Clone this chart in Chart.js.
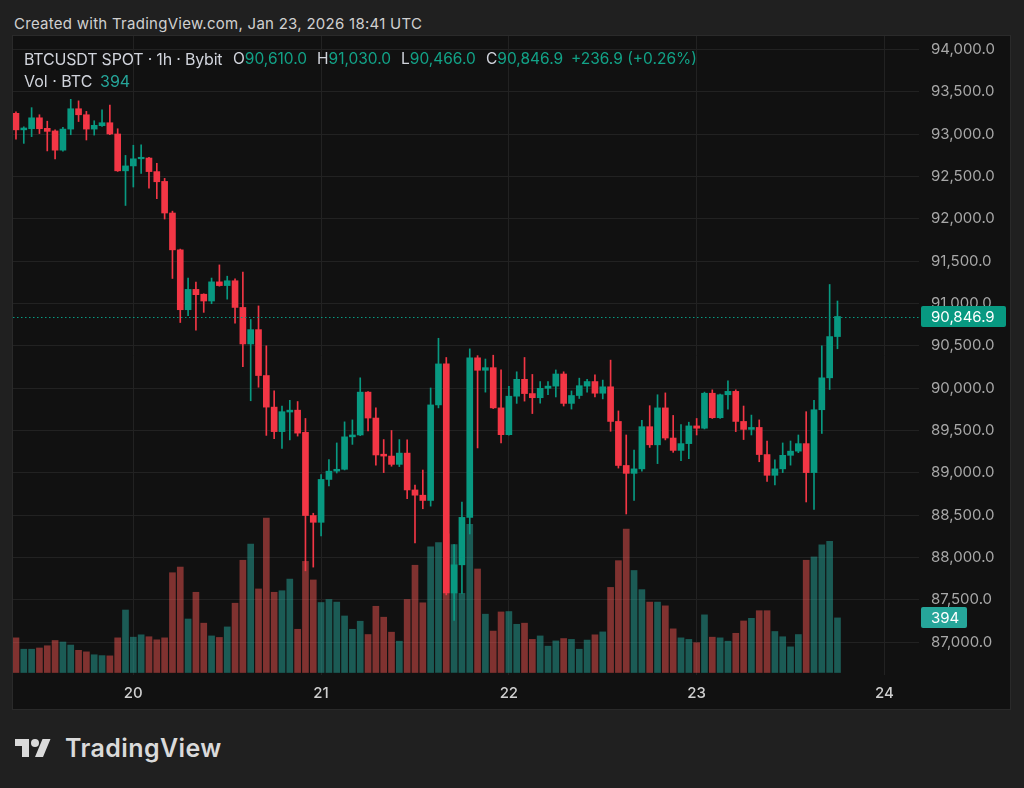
<!DOCTYPE html>
<html>
<head>
<meta charset="utf-8">
<script src="https://cdn.jsdelivr.net/npm/chart.js@4.4.1/dist/chart.umd.min.js"></script>
<style>
html,body{margin:0;padding:0;background:#202020;width:1024px;height:788px;overflow:hidden;font-family:Inter,Roboto,"Noto Sans",sans-serif;}
#hdr{position:absolute;left:14px;top:15px;font-size:15px;line-height:18px;color:#d0d0d0;white-space:nowrap;letter-spacing:0.27px;}
#panel{position:absolute;left:12px;top:35px;width:999px;height:675px;background:#111111;box-sizing:border-box;border:1px solid #2a2a2a;}
#wrap{position:absolute;left:13px;top:36px;width:997px;height:673px;}
.lg{position:absolute;font-size:15.5px;line-height:18px;white-space:nowrap;color:#d1d4dc;z-index:5;}
.v{color:#12a287;}
.vv{color:#26a69a;}
#logo{position:absolute;left:15px;top:735px;width:36px;height:28px;}
#brand{position:absolute;left:65px;top:733px;font-size:25px;line-height:30px;font-weight:600;color:#dadada;letter-spacing:0.4px;white-space:nowrap;}
</style>
</head>
<body>
<div id="hdr">Created with TradingView.com, Jan 23, 2026 18:41 UTC</div>
<div id="panel"></div>
<div id="wrap"><canvas id="c"></canvas></div>
<div class="lg" id="lgName" style="left:24px;top:50px;font-size:16px;letter-spacing:-0.2px;">BTCUSDT SPOT · 1h · Bybit</div>
<div class="lg" id="lgO" style="left:233px;top:50px;"></div>
<div class="lg" id="lgH" style="left:317px;top:50px;"></div>
<div class="lg" id="lgL" style="left:401px;top:50px;"></div>
<div class="lg" id="lgC" style="left:486px;top:50px;"></div>
<div class="lg" id="lgChg" style="left:571px;top:50px;"></div>
<div class="lg" style="left:24px;top:72px;font-size:16px;">Vol · BTC</div>
<div class="lg" id="lgV" style="left:100px;top:72px;font-size:16px;"></div>
<svg id="logo" viewBox="0 0 36 28" xmlns="http://www.w3.org/2000/svg"><path fill="#dadada" d="M14 22H7V11H0V4h14v18zM28 22h-8l7.5-18h8L28 22z"/><circle fill="#dadada" cx="20" cy="8" r="4"/></svg>
<div id="brand">TradingView</div>
<script>
// ---- data (hourly candles, Jan 19 09:00 UTC -> Jan 23 18:00 UTC) ----
const START_DAY = 19;
const START_HOUR = 9;
const DAY_LABELS = ['20', '21', '22', '23', '24'];
const PRICE_TICKS = [87000, 87500, 88000, 88500, 89000, 89500, 90000, 90500, 91000, 91500, 92000, 92500, 93000, 93500, 94000];

const OPEN = [93246,93051,93064,93193,93069,93038,92811,93060,93300,93229,93060,93100,93135,93002,92567,92625,92709,92718,92558,92442,
92069,91634,90927,91167,91110,91030,91256,91212,91269,90954,90523,90692,90150,89777,89488,89719,89741,89479,88497,88417,
88923,89021,89043,89426,89448,89954,89648,89221,89199,89101,89234,88799,88737,88675,89803,90287,87582,87915,88475,90359,
90212,90243,89768,89452,89906,90105,89937,89888,89999,90025,90168,89821,89914,90025,90079,89941,90017,89608,89088,88995,
89048,89546,89332,89768,89412,89266,89346,89555,89528,89941,89652,89923,89963,89608,89514,89537,89217,88972,89048,89208,
89257,89346,89004,89746,90123,90610.0];
const HIGH = [93264,93087,93313,93229,93153,93051,93082,93411,93393,93269,93158,93287,93344,93064,92749,92869,92873,92727,92656,92478,
92091,91643,91301,91252,91115,91301,91456,91323,91292,91372,90812,90972,90501,89968,89790,89857,89843,89643,88524,88981,
89159,89354,89603,89626,90123,89960,89768,89394,89501,89394,89390,88857,89034,90003,90590,90363,88155,88657,90465,90385,
90345,90390,90216,90021,90194,90363,90163,90079,90079,90216,90194,89968,90119,90105,90159,90096,90332,89732,89448,89270,
89621,89794,89923,89945,89679,89572,89599,89643,89954,89981,89932,90088,89981,89790,89683,89626,89377,89155,89354,89377,
89448,89723,89857,90501,91225,91030.0];
const LOW = [92940,92891,92971,93007,92802,92709,92800,92993,93149,92931,92989,93091,92995,92560,92158,92376,92536,92362,92238,91998,
91296,90776,90856,90687,90896,90998,91205,91052,90767,90256,89852,90012,89443,89403,89288,89390,89435,87844,87888,88257,
88848,88999,89035,89337,89440,89497,89092,89004,89079,89075,88697,88173,88577,88608,89768,87560,87257,87577,88279,89295,
89954,89760,89355,89445,89821,89848,89701,89825,89923,89897,89790,89754,89879,89954,89897,89874,89492,89057,88515,88675,
89021,89301,89110,89390,89243,89146,89168,89448,89519,89643,89643,89754,89488,89394,89448,89132,88901,88857,89004,89092,
89239,88657,88568,89466,89985,90466.0];
const CLOSE = [93051,93073,93193,93064,93033,92811,93060,93300,93229,93060,93104,93135,93002,92567,92625,92709,92727,92558,92438,92069,
91634,90927,91167,91105,91030,91256,91212,91269,90954,90523,90692,90150,89777,89488,89723,89741,89470,88497,88417,88923,
89021,89043,89426,89448,89954,89648,89212,89199,89101,89234,88799,88737,88675,89803,90287,87582,87915,88475,90359,90212,
90243,89768,89452,89906,90105,89937,89888,89999,90025,90168,89821,89914,90030,90079,89941,90017,89608,89088,88995,89048,
89546,89332,89768,89412,89266,89346,89555,89528,89941,89652,89923,89963,89608,89514,89537,89217,88972,89048,89208,89257,
89346,89004,89746,90123,90610,90846.9];
const VOLUME = [250,168,168,177,193,231,220,198,160,149,128,122,120,250,451,255,272,258,236,250,
720,761,386,579,356,264,253,329,500,810,926,603,1114,579,590,674,312,802,668,505,
527,508,408,312,370,274,478,399,291,226,527,774,503,907,937,1000,924,571,1070,747,
421,299,437,440,348,356,239,264,190,228,245,239,168,234,272,293,614,807,1035,736,
598,508,508,481,315,250,239,215,416,255,250,226,283,372,391,446,446,296,258,185,
274,810,834,921,946,394];

// ---- derived ----
const N = OPEN.length;
const IDX = Array.from({length: N}, (_, i) => i);
const dayTickPos = DAY_LABELS.map(d => (Number(d) - START_DAY) * 24 - START_HOUR);
const isUp = i => CLOSE[i] >= OPEN[i];
const UP = '#089981', DN = '#f23645';
const candleColors = IDX.map(i => isUp(i) ? UP : DN);
const volColors = IDX.map(i => isUp(i) ? 'rgba(38,166,154,0.5)' : 'rgba(239,83,80,0.5)');
const fmt1 = v => Number(v).toLocaleString('en-US', {minimumFractionDigits: 1, maximumFractionDigits: 1});

const last = N - 1;
const lastClose = CLOSE[last], lastVol = VOLUME[last];
const chg = CLOSE[last] - CLOSE[last - 1];
const pct = chg / CLOSE[last - 1] * 100;
document.getElementById('lgO').innerHTML = 'O<span class="v">' + fmt1(OPEN[last]) + '</span>';
document.getElementById('lgH').innerHTML = 'H<span class="v">' + fmt1(HIGH[last]) + '</span>';
document.getElementById('lgL').innerHTML = 'L<span class="v">' + fmt1(LOW[last]) + '</span>';
document.getElementById('lgC').innerHTML = 'C<span class="v">' + fmt1(CLOSE[last]) + '</span>';
document.getElementById('lgChg').innerHTML = '<span class="v">' + (chg >= 0 ? '+' : '') + chg.toFixed(1) + ' (' + (pct >= 0 ? '+' : '') + pct.toFixed(2) + '%)</span>';
document.getElementById('lgV').innerHTML = '<span class="vv">' + lastVol + '</span>';

const overlay = {
  id: 'overlay',
  afterDatasetsDraw(chart) {
    const {ctx, chartArea: a, scales: {y}} = chart;
    const py = Math.round(y.getPixelForValue(lastClose)) + 0.5;
    ctx.save();
    ctx.strokeStyle = UP;
    ctx.lineWidth = 1;
    ctx.setLineDash([1.5, 2.5]);
    ctx.beginPath();
    ctx.moveTo(a.left, py);
    ctx.lineTo(a.right, py);
    ctx.stroke();
    ctx.restore();
  },
  afterDraw(chart) {
    const {ctx, chartArea: a, scales: {y, vol}} = chart;
    const box = (cy, text, color, w) => {
      const h = 21, x = a.right + 2;
      ctx.save();
      ctx.fillStyle = color;
      ctx.beginPath();
      ctx.roundRect(x, Math.round(cy - h / 2), w, h, 2);
      ctx.fill();
      ctx.fillStyle = '#ffffff';
      ctx.font = '15px Inter, Roboto, sans-serif';
      ctx.textBaseline = 'middle';
      ctx.textAlign = 'left';
      ctx.fillText(text, a.right + 12, cy + 0.5);
      ctx.restore();
    };
    box(y.getPixelForValue(lastClose), fmt1(lastClose), UP, 85);
    box(vol.getPixelForValue(lastVol), String(lastVol), '#26a69a', 46);
  }
};

new Chart(document.getElementById('c'), {
  type: 'bar',
  data: {
    datasets: [
      {label: 'body', data: IDX.map(i => ({x: i, y: [OPEN[i], CLOSE[i]]})), backgroundColor: candleColors,
       barThickness: 6, minBarLength: 1, grouped: false, order: 1, yAxisID: 'y'},
      {label: 'wick', data: IDX.map(i => ({x: i, y: [LOW[i], HIGH[i]]})), backgroundColor: candleColors,
       barThickness: 1, grouped: false, order: 2, yAxisID: 'y'},
      {label: 'volume', data: IDX.map(i => ({x: i, y: VOLUME[i]})), backgroundColor: volColors,
       barThickness: 6, grouped: false, order: 3, yAxisID: 'vol'}
    ]
  },
  options: {
    responsive: true,
    maintainAspectRatio: false,
    animation: false,
    layout: {padding: 0},
    plugins: {legend: {display: false}, tooltip: {enabled: false}},
    scales: {
      x: {
        type: 'linear', min: -0.38, max: 115.42, offset: false,
        grid: {color: '#222222', offset: false, drawTicks: false},
        border: {display: false},
        ticks: {
          color: '#cfcfcf', font: {family: 'Inter, Roboto, sans-serif', size: 15, weight: '500'},
          padding: 9, autoSkip: false, maxRotation: 0,
          callback: v => { const k = dayTickPos.indexOf(v); return k >= 0 ? DAY_LABELS[k] : ''; }
        },
        afterBuildTicks: s => { s.ticks = dayTickPos.map(v => ({value: v})); },
        afterFit: s => { s.height = 34; s.paddingLeft = 0; s.paddingRight = 0; }
      },
      y: {
        type: 'linear', position: 'right', min: 86614, max: 94159,
        grid: {color: '#222222', drawTicks: false},
        border: {display: false},
        ticks: {color: '#a8a8a8', font: {family: 'Inter, Roboto, sans-serif', size: 15}, padding: 12, callback: v => fmt1(v)},
        afterBuildTicks: s => { s.ticks = PRICE_TICKS.map(v => ({value: v})); },
        afterFit: s => { s.width = 91; s.paddingTop = 0; s.paddingBottom = 0; }
      },
      vol: {type: 'linear', display: false, min: -18, max: 4593}
    }
  },
  plugins: [overlay]
});
</script>
</body>
</html>
